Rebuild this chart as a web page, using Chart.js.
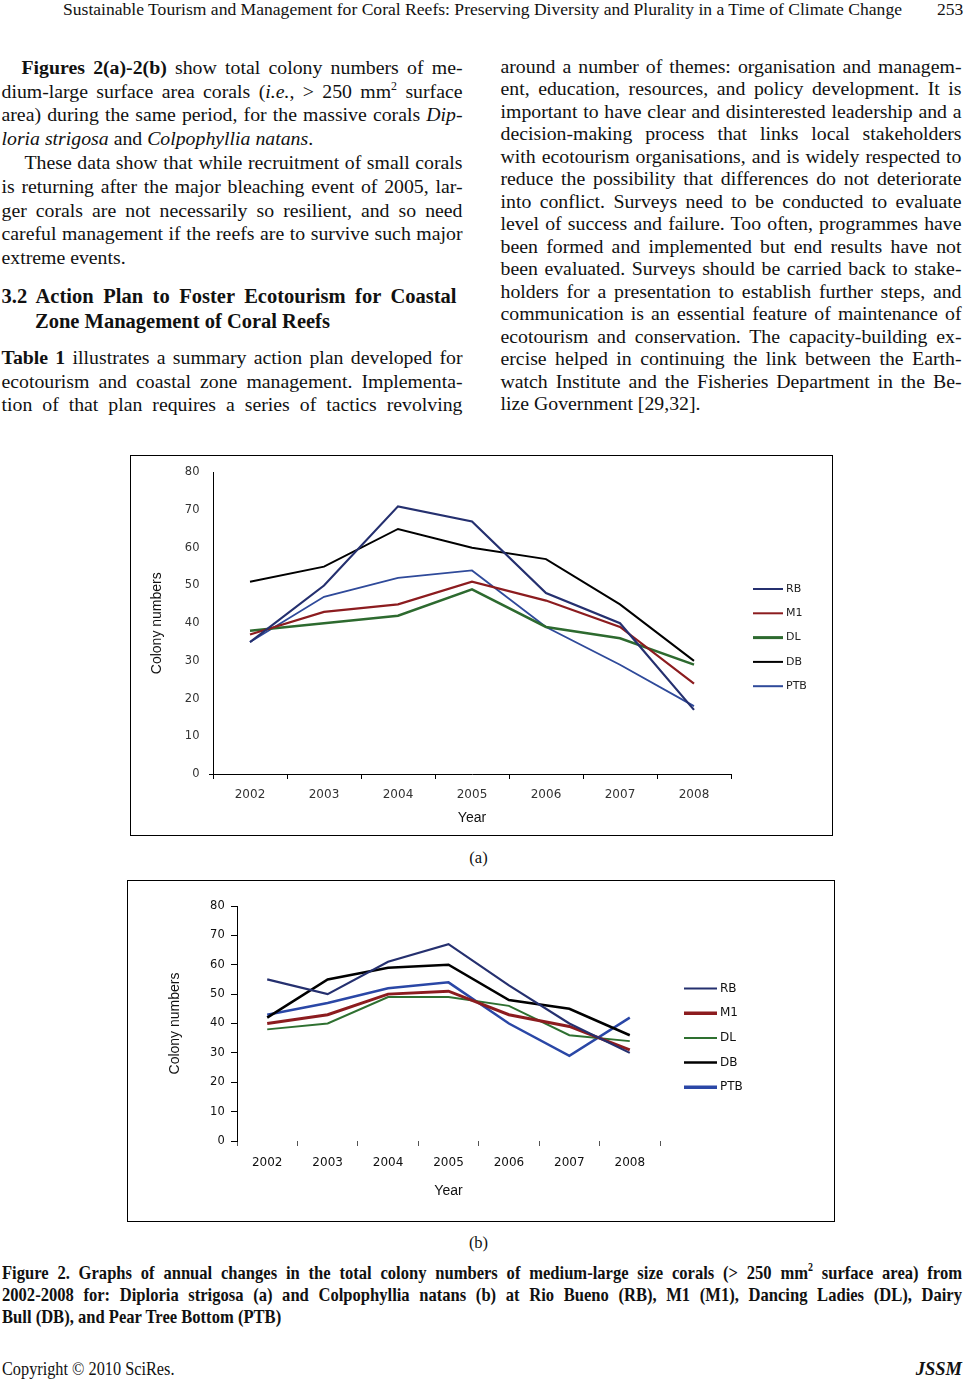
<!DOCTYPE html>
<html lang="en">
<head>
<meta charset="UTF-8" />
<title>Figure 2 - colony numbers of medium-large corals</title>
<script src="https://cdn.jsdelivr.net/npm/chart.js@4"></script>
<style>
  html, body { margin: 0; padding: 0; background: #fff; }
  #page { position: relative; width: 967px; height: 1386px; overflow: hidden;
          font-family: "Liberation Serif", "Times New Roman", serif; color: #111; }
  .ln { position: absolute; white-space: nowrap; font-size: 19.8px; line-height: 24px; transform-origin: 0 0; }
  .L { left: 1.5px; }
  .R { left: 500.5px; }
  .h3 { font-size: 20.5px; line-height: 25px; font-weight: bold; }
  .cap { font-size: 19.5px; line-height: 22px; font-weight: bold; }
  .hdr { font-size: 17.5px; line-height: 20px; }
  .sub { font-size: 16.5px; line-height: 22px; width: 967px; left: -5px; text-align: center; }
  sup { font-size: 60%; line-height: 0; vertical-align: 0.7em; }
  .box { position: absolute; border: 1px solid #000; background: #fff; }
  .box div { position: relative; width: 100%; height: 100%; }
</style>
</head>
<body>
<div id="page">
  <!-- running head -->
  <div class="ln hdr" data-fit="839" style="left:63px; top:-1px">Sustainable Tourism and Management for Coral Reefs: Preserving Diversity and Plurality in a Time of Climate Change</div>
  <div class="ln hdr" style="left:937px; top:-1px">253</div>

  <!-- left column -->
  <div class="ln" data-w="441" style="left:21.5px; top:54.8px"><b>Figures 2(a)-2(b)</b> show total colony numbers of me-</div>
  <div class="ln L" data-w="461" style="top:78.6px">dium-large surface area corals (<i>i.e.</i>, &gt; 250 mm<sup>2</sup> surface</div>
  <div class="ln L" data-w="461" style="top:102.4px">area) during the same period, for the massive corals <i>Dip-</i></div>
  <div class="ln L" style="top:126.2px"><i>loria strigosa</i> and <i>Colpophyllia natans</i>.</div>
  <div class="ln" data-w="438" style="left:24.5px; top:150px">These data show that while recruitment of small corals</div>
  <div class="ln L" data-w="461" style="top:173.8px">is returning after the major bleaching event of 2005, lar-</div>
  <div class="ln L" data-w="461" style="top:197.6px">ger corals are not necessarily so resilient, and so need</div>
  <div class="ln L" data-w="461" style="top:221.4px">careful management if the reefs are to survive such major</div>
  <div class="ln L" style="top:245.2px">extreme events.</div>
  <div class="ln L h3" data-w="455" style="top:283.5px">3.2 Action Plan to Foster Ecotourism for Coastal</div>
  <div class="ln h3" style="left:35px; top:308.5px">Zone Management of Coral Reefs</div>
  <div class="ln L" data-w="461" style="top:344.8px"><b>Table 1</b> illustrates a summary action plan developed for</div>
  <div class="ln L" data-w="461" style="top:368.5px">ecotourism and coastal zone management. Implementa-</div>
  <div class="ln L" data-w="461" style="top:392.2px">tion of that plan requires a series of tactics revolving</div>

  <!-- right column -->
  <div class="ln R" data-w="461" style="top:53.5px">around a number of themes: organisation and managem-</div>
  <div class="ln R" data-w="461" style="top:76px">ent, education, resources, and policy development. It is</div>
  <div class="ln R" data-w="461" style="top:98.5px">important to have clear and disinterested leadership and a</div>
  <div class="ln R" data-w="461" style="top:121px">decision-making process that links local stakeholders</div>
  <div class="ln R" data-w="461" style="top:143.5px">with ecotourism organisations, and is widely respected to</div>
  <div class="ln R" data-w="461" style="top:166px">reduce the possibility that differences do not deteriorate</div>
  <div class="ln R" data-w="461" style="top:188.5px">into conflict. Surveys need to be conducted to evaluate</div>
  <div class="ln R" data-w="461" style="top:211px">level of success and failure. Too often, programmes have</div>
  <div class="ln R" data-w="461" style="top:233.5px">been formed and implemented but end results have not</div>
  <div class="ln R" data-w="461" style="top:256px">been evaluated. Surveys should be carried back to stake-</div>
  <div class="ln R" data-w="461" style="top:278.5px">holders for a presentation to establish further steps, and</div>
  <div class="ln R" data-w="461" style="top:301px">communication is an essential feature of maintenance of</div>
  <div class="ln R" data-w="461" style="top:323.5px">ecotourism and conservation. The capacity-building ex-</div>
  <div class="ln R" data-w="461" style="top:346px">ercise helped in continuing the link between the Earth-</div>
  <div class="ln R" data-w="461" style="top:368.5px">watch Institute and the Fisheries Department in the Be-</div>
  <div class="ln R" style="top:391px">lize Government [29,32].</div>

  <!-- figures -->
  <div class="box" style="left:130px; top:455px; width:701px; height:379px"><div><canvas id="chartA"></canvas></div></div>
  <div class="ln sub" style="top:846.5px">(a)</div>
  <div class="box" style="left:127px; top:880px; width:706px; height:340px"><div><canvas id="chartB"></canvas></div></div>
  <div class="ln sub" style="top:1231.5px">(b)</div>

  <!-- caption -->
  <div class="ln L cap" data-w="960" data-sx="0.85" style="top:1262px">Figure 2. Graphs of annual changes in the total colony numbers of medium-large size corals (&gt; 250 mm<sup>2</sup> surface area) from</div>
  <div class="ln L cap" data-w="960" data-sx="0.85" style="top:1284px">2002-2008 for: Diploria strigosa (a) and Colpophyllia natans (b) at Rio Bueno (RB), M1 (M1), Dancing Ladies (DL), Dairy</div>
  <div class="ln L cap" data-sx="0.85" style="top:1306px">Bull (DB), and Pear Tree Bottom (PTB)</div>

  <div class="ln L cap" data-sx="0.88" style="top:1358px; font-weight:normal; font-size:18.5px">Copyright © 2010 SciRes.</div>
  <div class="ln cap" style="right:5px; top:1358px; font-size:18.5px"><i>JSSM</i></div>
</div>

<script>
  // justify / condense the page text lines
  document.querySelectorAll('.ln').forEach(function (el) {
    const w0 = el.getBoundingClientRect().width;
    if (el.dataset.fit) {
      el.style.transform = 'scaleX(' + (+el.dataset.fit / w0) + ')';
      return;
    }
    const sx = el.dataset.sx ? +el.dataset.sx : 1;
    if (el.dataset.w) {
      const spaces = el.textContent.split(' ').length - 1;
      el.style.wordSpacing = ((+el.dataset.w / sx - w0) / spaces) + 'px';
    }
    if (sx !== 1) el.style.transform = 'scaleX(' + sx + ')';
  });

  // ---- data ----
  const years = ['2002', '2003', '2004', '2005', '2006', '2007', '2008'];
  const sites = ['RB', 'M1', 'DL', 'DB', 'PTB'];
  const yTicks = [0, 10, 20, 30, 40, 50, 60, 70, 80];

  // (a) Diploria strigosa
  const rbA = [35, 50, 71, 67, 48, 40, 17];
  const m1A = [37, 43, 45, 51, 46, 39, 24];
  const dlA = [38, 40, 42, 49, 39, 36, 29];
  const dbA = [51, 55, 65, 60, 57, 45, 30];
  const ptbA = [35, 47, 52, 54, 39, 29, 18];

  // (b) Colpophyllia natans
  const rbB = [55, 50, 61, 67, 53, 40, 30];
  const m1B = [40, 43, 50, 51, 43, 39, 31];
  const dlB = [38, 40, 49, 49, 46, 36, 34];
  const dbB = [42, 55, 59, 60, 48, 45, 36];
  const ptbB = [43, 47, 52, 54, 40, 29, 42];

  Chart.defaults.font.family = '"DejaVu Sans", Verdana, sans-serif';
  Chart.defaults.animation = false;

  // legend drawn as short line samples to the right of the plot
  const lineLegend = {
    id: 'lineLegend',
    afterDraw(chart, args, opts) {
      const ctx = chart.ctx;
      ctx.save();
      ctx.font = opts.font;
      ctx.textBaseline = 'middle';
      ctx.textAlign = 'left';
      chart.data.datasets.forEach(function (ds, i) {
        const y = opts.y + i * opts.gap;
        ctx.strokeStyle = ds.borderColor;
        ctx.lineWidth = opts.widths[i];
        ctx.beginPath();
        ctx.moveTo(opts.x, y);
        ctx.lineTo(opts.x + opts.len, y);
        ctx.stroke();
        ctx.fillStyle = opts.color;
        ctx.fillText(ds.label, opts.x + opts.len + 3, y);
      });
      ctx.restore();
    }
  };

  function colonyChart(id, series, colors, widths, g) {
    return new Chart(document.getElementById(id), {
      type: 'line',
      data: {
        labels: years,
        datasets: series.map(function (data, i) {
          return { label: sites[i], data: data, borderColor: colors[i], borderWidth: widths[i],
                   pointRadius: 0, tension: 0, fill: false };
        })
      },
      plugins: [lineLegend],
      options: {
        responsive: true,
        maintainAspectRatio: false,
        layout: { padding: { left: 0, top: g.top, right: g.right, bottom: 0 } },
        plugins: {
          legend: { display: false },
          tooltip: { enabled: false },
          lineLegend: g.legend
        },
        scales: {
          x: {
            offset: true,
            afterFit: function (s) { s.height = g.xHeight; },
            border: { display: g.xBorder, color: '#000', width: 1 },
            grid: { offset: true, drawOnChartArea: false, tickLength: 5, color: g.xTickColor },
            ticks: { color: g.tickColor, font: { size: 12 }, padding: g.xPad, maxRotation: 0, autoSkip: false },
            title: { display: true, text: 'Year', color: '#111',
                     font: { family: '"Liberation Sans", Arial, sans-serif', size: 14 },
                     padding: { top: 0, bottom: g.xTitlePad } }
          },
          y: {
            min: yTicks[0],
            max: yTicks[yTicks.length - 1],
            afterFit: function (s) { s.width = g.yWidth; },
            border: { display: true, color: '#000', width: 1 },
            grid: { drawOnChartArea: false, tickLength: g.yTickLen,
                    color: function (c) { return (g.yAllTicks || (c.tick && c.tick.value === 0)) ? '#000' : 'rgba(0,0,0,0)'; } },
            ticks: { stepSize: yTicks[1] - yTicks[0], color: g.tickColor, font: { size: 11.5 }, padding: g.yPad },
            title: { display: true, text: 'Colony numbers', color: '#111',
                     font: { family: '"Liberation Sans", Arial, sans-serif', size: 14 },
                     padding: { top: g.yTitlePad, bottom: 0 } }
          }
        }
      }
    });
  }

  colonyChart('chartA', [rbA, m1A, dlA, dbA, ptbA],
    ['#25306f', '#8c1c1f', '#2d6a2f', '#000000', '#2f4a9a'],
    [2.2, 2.2, 2.5, 2, 1.8],
    { top: 15, right: 101, yWidth: 82, xHeight: 61, xBorder: true, xTickColor: '#000',
      tickColor: '#333', xPad: 9, yPad: 9.5, yTickLen: 4, yAllTicks: false,
      xTitlePad: 8.3, yTitlePad: 18,
      legend: { x: 622, y: 133, gap: 24.3, len: 30, font: '11px "DejaVu Sans"', color: '#222',
                widths: [2, 2, 3, 2, 2] } });

  colonyChart('chartB', [rbB, m1B, dlB, dbB, ptbB],
    ['#25306f', '#8c1c1f', '#2e7030', '#000000', '#2a47a6'],
    [2.2, 3, 2, 2.5, 2.5],
    { top: 25, right: 174, yWidth: 109, xHeight: 80, xBorder: false, xTickColor: '#555',
      tickColor: '#111', xPad: 9.5, yPad: 6.3, yTickLen: 6, yAllTicks: true,
      xTitlePad: 21.6, yTitlePad: 39,
      legend: { x: 556, y: 107.5, gap: 24.7, len: 33, font: '12px "DejaVu Sans"', color: '#111',
                widths: [2, 3.5, 2, 2.5, 3.5] } });
</script>
</body>
</html>
